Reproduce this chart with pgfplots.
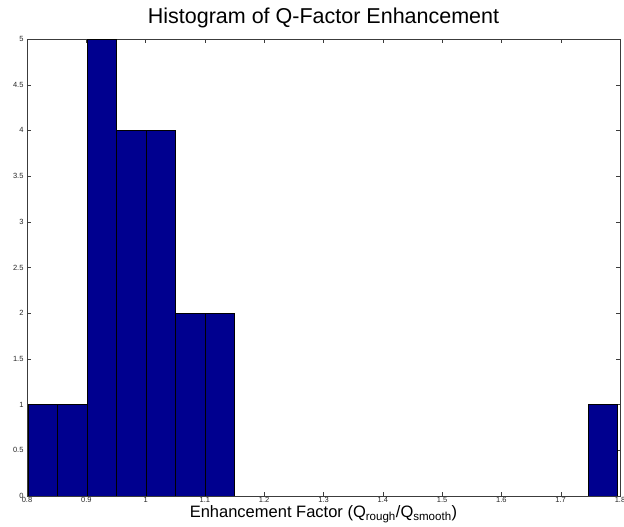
\documentclass[border=0pt]{standalone}
\usepackage{fontspec}
\setmainfont{Liberation Sans}
\usepackage{pgfplots}
\pgfplotsset{compat=1.18}
\definecolor{histblue}{RGB}{0,0,143}
\definecolor{axgray}{RGB}{60,60,60}
\begin{document}
\begin{tikzpicture}
% crop like the reference figure
\clip (-27pt,-31pt) rectangle (597pt,496pt);
\begin{axis}[
  at={(0,0)}, anchor=south west,
  scale only axis, width=593pt, height=457pt,
  xmin=0.8, xmax=1.8, ymin=0, ymax=5,
  xtick={0.8,0.9,...,1.81}, ytick={0,0.5,...,5},
  xticklabels={0.8,0.9,1,1.1,1.2,1.3,1.4,1.5,1.6,1.7,1.8},
  yticklabels={0,0.5,1,1.5,2,2.5,3,3.5,4,4.5,5},
  tick align=inside, major tick length=4pt,
  axis line style={axgray}, every tick/.style={axgray},
  tick label style={font=\fontsize{7.5}{8}\selectfont, text=black!85},
  xticklabel style={inner sep=1pt},
  /pgf/number format/assume math mode=true,
  title={Histogram of Q-Factor Enhancement},
  title style={font=\fontsize{21.5}{24}\selectfont, at={(axis description cs:0.5,1)}, anchor=base, yshift=10pt},
  xlabel={Enhancement Factor (Q\textsubscript{rough}/Q\textsubscript{smooth})},
  xlabel style={font=\fontsize{16.5}{18}\selectfont, at={(axis description cs:0.5,0)}, anchor=base, yshift=-21.5pt},
]
\addplot[ybar interval, fill=histblue, draw=black, line width=0.5pt] coordinates {
(0.8020,1) (0.8517,1) (0.9014,5) (0.9511,4) (1.0008,4) (1.0505,2) (1.1002,2) (1.1499,0)
};
\addplot[ybar interval, fill=histblue, draw=black, line width=0.5pt] coordinates {
(1.7463,1) (1.7960,0)
};
\end{axis}
\end{tikzpicture}
\end{document}
